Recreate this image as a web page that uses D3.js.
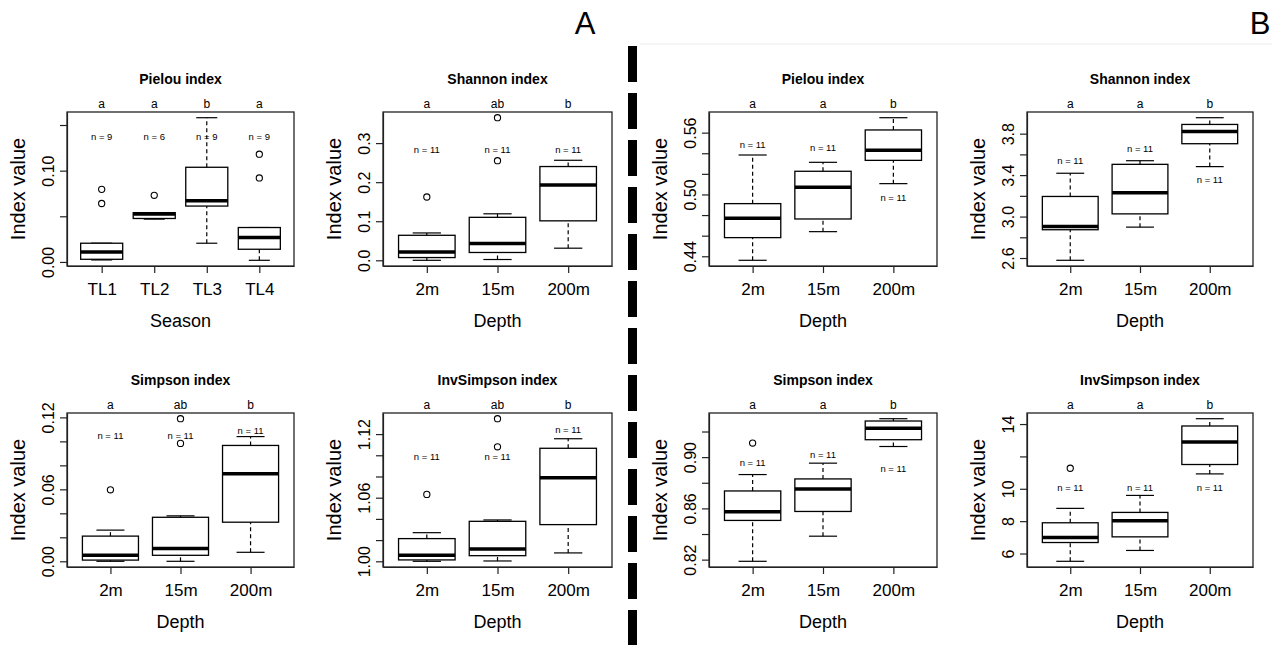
<!DOCTYPE html>
<html>
<head>
<meta charset="utf-8">
<script src="https://cdn.jsdelivr.net/npm/d3@7"></script>
<style>
body{margin:0;background:#fff}
text{font-family:"Liberation Sans",Arial,Helvetica,sans-serif;fill:#000}
</style>
</head>
<body>
<script>
// categories
var seasons=["TL1","TL2","TL3","TL4"]
var depths=["2m","15m","200m"]

// box stats per group: [lower whisker, Q1, median, Q3, upper whisker]
// --- A ---
var pielouA=[[0.0022,0.0029,0.011,0.0205,0.0205],[0.0469,0.0476,0.0524,0.054,0.054],[0.0205,0.0612,0.067,0.1037,0.158],[0.0018,0.0139,0.0267,0.0377,0.0377]]
var pielouA_out=[[0.0795,0.064],[0.073],[],[0.118,0.092]]
var pielouA_n=[9,6,9,9]
var pielouA_nY=[0.137,0.137,0.137,0.137]
var pielouA_sig=["a","a","b","a"]

var shannonA=[[0.0,0.007,0.021,0.064,0.070],[0.002,0.020,0.043,0.110,0.119],[0.031,0.101,0.193,0.240,0.256]]
var shannonA_out=[[0.162],[0.255,0.365],[]]
var shannonA_nY=[0.283,0.283,0.283]
var shannonA_sig=["a","ab","b"]

var simpsonA=[[0.0,0.001,0.005,0.021,0.026],[0.0,0.005,0.0106,0.0367,0.0379],[0.0075,0.0326,0.073,0.0966,0.104]]
var simpsonA_out=[[0.0596],[0.0983,0.1189],[]]
var simpsonA_nY=[0.1044,0.1044,0.109]
var simpsonA_sig=["a","ab","b"]

var invSimpA=[[1.0,1.0013,1.0057,1.0214,1.027],[1.0003,1.0053,1.0116,1.0377,1.039],[1.0079,1.0346,1.0789,1.1066,1.1156]]
var invSimpA_out=[[1.0631],[1.108,1.1345],[]]
var invSimpA_nY=[1.0987,1.0987,1.1238]
var invSimpA_sig=["a","ab","b"]

// --- B ---
var pielouB=[[0.4361,0.4581,0.4769,0.4911,0.5383],[0.4639,0.4762,0.5069,0.5225,0.5312],[0.5105,0.5331,0.5428,0.5626,0.5745]]
var pielouB_out=[[],[],[]]
var pielouB_nY=[0.548,0.5452,0.4967]
var pielouB_sig=["a","a","b"]

var shannonB=[[2.578,2.873,2.905,3.194,3.418],[2.898,3.026,3.231,3.504,3.539],[3.482,3.703,3.822,3.889,3.954]]
var shannonB_out=[[],[],[]]
var shannonB_nY=[3.537,3.652,3.353]
var shannonB_sig=["a","a","b"]

var simpsonB=[[0.8187,0.8506,0.8574,0.8736,0.8864],[0.8383,0.8576,0.8752,0.883,0.8953],[0.9083,0.9136,0.9225,0.9282,0.93]]
var simpsonB_out=[[0.911],[],[]]
var simpsonB_nY=[0.896,0.902,0.8909]
var simpsonB_sig=["a","a","b"]

var invSimpB=[[5.52,6.68,6.99,7.90,8.79],[6.19,7.03,8.02,8.54,9.59],[10.92,11.5,12.89,13.88,14.33]]
var invSimpB_out=[[11.27],[],[]]
var invSimpB_nY=[10.08,10.08,10.08]
var invSimpB_sig=["a","a","b"]

var n11=[11,11,11]

// y ticks and which of them get a label
var ticks1=[0,0.05,0.10,0.15], lab1=["0.00","0.10"]
var ticks2=[0,0.1,0.2,0.3], lab2=["0.0","0.1","0.2","0.3"]
var ticks3=[0,0.02,0.04,0.06,0.08,0.10,0.12], lab3=["0.00","0.06","0.12"]
var ticks4=[1.00,1.02,1.04,1.06,1.08,1.10,1.12], lab4=["1.00","1.06","1.12"]
var ticks5=[0.44,0.46,0.48,0.50,0.52,0.54,0.56], lab5=["0.44","0.50","0.56"]
var ticks6=[2.6,2.8,3.0,3.2,3.4,3.6,3.8], lab6=["2.6","3.0","3.4","3.8"]
var ticks7=[0.82,0.84,0.86,0.88,0.90,0.92], lab7=["0.82","0.86","0.90"]
var ticks8=[6,8,10,12,14], lab8=["6","8","10","14"]

var cols=[[67,294],[383,612],[709,937],[1027,1253]]
var rows=[[112,266],[413,567]]

var panels=[
 {c:0,r:0,title:"Pielou index",cats:seasons,st:pielouA,out:pielouA_out,n:pielouA_n,nY:pielouA_nY,sig:pielouA_sig,ticks:ticks1,labs:lab1,fmt:2,xl:"Season"},
 {c:1,r:0,title:"Shannon index",cats:depths,st:shannonA,out:shannonA_out,n:n11,nY:shannonA_nY,sig:shannonA_sig,ticks:ticks2,labs:lab2,fmt:1,xl:"Depth"},
 {c:0,r:1,title:"Simpson index",cats:depths,st:simpsonA,out:simpsonA_out,n:n11,nY:simpsonA_nY,sig:simpsonA_sig,ticks:ticks3,labs:lab3,fmt:2,xl:"Depth"},
 {c:1,r:1,title:"InvSimpson index",cats:depths,st:invSimpA,out:invSimpA_out,n:n11,nY:invSimpA_nY,sig:invSimpA_sig,ticks:ticks4,labs:lab4,fmt:2,xl:"Depth"},
 {c:2,r:0,title:"Pielou index",cats:depths,st:pielouB,out:pielouB_out,n:n11,nY:pielouB_nY,sig:pielouB_sig,ticks:ticks5,labs:lab5,fmt:2,xl:"Depth"},
 {c:3,r:0,title:"Shannon index",cats:depths,st:shannonB,out:shannonB_out,n:n11,nY:shannonB_nY,sig:shannonB_sig,ticks:ticks6,labs:lab6,fmt:1,xl:"Depth"},
 {c:2,r:1,title:"Simpson index",cats:depths,st:simpsonB,out:simpsonB_out,n:n11,nY:simpsonB_nY,sig:simpsonB_sig,ticks:ticks7,labs:lab7,fmt:2,xl:"Depth"},
 {c:3,r:1,title:"InvSimpson index",cats:depths,st:invSimpB,out:invSimpB_out,n:n11,nY:invSimpB_nY,sig:invSimpB_sig,ticks:ticks8,labs:lab8,fmt:0,xl:"Depth"}
]

var svg=d3.select("body").append("svg").attr("width",1272).attr("height",645)

// faint frame line over B
svg.append("line").attr("x1",640).attr("x2",1272).attr("y1",44).attr("y2",44).attr("stroke","#ececec").attr("stroke-width",1)

// dashed divider
svg.append("line").attr("x1",632.5).attr("x2",632.5).attr("y1",46).attr("y2",645)
 .attr("stroke","#000").attr("stroke-width",9).attr("stroke-dasharray","36,11")

svg.append("text").attr("x",585).attr("y",34).attr("text-anchor","middle").style("font-size","31px").text("A")
svg.append("text").attr("x",1260).attr("y",34).attr("text-anchor","middle").style("font-size","31px").text("B")

panels.forEach(function(p){
	var x0=cols[p.c][0],x1=cols[p.c][1],y0=rows[p.r][0],y1=rows[p.r][1]
	var k=p.cats.length
	var x=d3.scaleLinear().domain([0.5-0.04*k,k+0.5+0.04*k]).range([x0,x1])
	var all=d3.merge(p.st).concat(d3.merge(p.out))
	var ext=d3.extent(all),pad=(ext[1]-ext[0])*0.04
	var y=d3.scaleLinear().domain([ext[0]-pad,ext[1]+pad]).range([y1,y0])
	var g=svg.append("g")
	var hw=(x(1.4)-x(1))

	// y axis
	var ya=g.append("g").attr("transform","translate("+x0+",0)")
		.call(d3.axisLeft(y).tickValues(p.ticks).tickSize(7).tickSizeOuter(0)
		.tickFormat(function(d){var s=d.toFixed(p.fmt);return p.labs.indexOf(s)>=0?s:""}))
	ya.select(".domain").attr("stroke","#222").attr("stroke-width",1.2)
	ya.selectAll(".tick line").attr("stroke","#222").attr("stroke-width",1.2)
	ya.selectAll(".tick text").attr("transform","rotate(-90)").attr("x",0).attr("y",-13).attr("dy",null)
		.attr("text-anchor","middle").style("font-size","16px").attr("fill","#000")

	// x axis
	var xa=g.append("g").attr("transform","translate(0,"+y1+")")
		.call(d3.axisBottom(x).tickValues(d3.range(1,k+1)).tickSize(7).tickSizeOuter(0)
		.tickFormat(function(d){return p.cats[d-1]}))
	xa.select(".domain").attr("stroke","#222").attr("stroke-width",1.2)
	xa.selectAll(".tick line").attr("stroke","#222").attr("stroke-width",1.2)
	xa.selectAll(".tick text").attr("y",29).attr("dy",null).style("font-size","17px").attr("fill","#000")

	// frame
	g.append("rect").attr("x",x0).attr("y",y0).attr("width",x1-x0).attr("height",y1-y0)
		.attr("fill","none").attr("stroke","#222").attr("stroke-width",1.3)

	var bx=g.selectAll(".bx").data(p.st).enter().append("g")
	bx.append("line").attr("x1",(d,i)=>x(i+1)).attr("x2",(d,i)=>x(i+1)).attr("y1",d=>y(d[0])).attr("y2",d=>y(d[1]))
		.attr("stroke","#000").attr("stroke-width",1.2).attr("stroke-dasharray","4,3")
	bx.append("line").attr("x1",(d,i)=>x(i+1)).attr("x2",(d,i)=>x(i+1)).attr("y1",d=>y(d[3])).attr("y2",d=>y(d[4]))
		.attr("stroke","#000").attr("stroke-width",1.2).attr("stroke-dasharray","4,3")
	bx.append("line").attr("x1",(d,i)=>x(i+1)-hw/2).attr("x2",(d,i)=>x(i+1)+hw/2).attr("y1",d=>y(d[0])).attr("y2",d=>y(d[0]))
		.attr("stroke","#000").attr("stroke-width",1.2)
	bx.append("line").attr("x1",(d,i)=>x(i+1)-hw/2).attr("x2",(d,i)=>x(i+1)+hw/2).attr("y1",d=>y(d[4])).attr("y2",d=>y(d[4]))
		.attr("stroke","#000").attr("stroke-width",1.2)
	bx.append("rect").attr("x",(d,i)=>x(i+1)-hw).attr("width",2*hw).attr("y",d=>y(d[3])).attr("height",d=>y(d[1])-y(d[3]))
		.attr("fill","#fff").attr("stroke","#000").attr("stroke-width",1.3)
	bx.append("line").attr("x1",(d,i)=>x(i+1)-hw).attr("x2",(d,i)=>x(i+1)+hw).attr("y1",d=>y(d[2])).attr("y2",d=>y(d[2]))
		.attr("stroke","#000").attr("stroke-width",3.5)

	p.out.forEach(function(o,i){
		g.selectAll(null).data(o).enter().append("circle").attr("cx",x(i+1)).attr("cy",d=>y(d)).attr("r",3.1)
			.attr("fill","none").attr("stroke","#000").attr("stroke-width",1.1)
	})

	// n labels
	g.selectAll(null).data(p.n).enter().append("text").attr("x",(d,i)=>x(i+1)).attr("y",(d,i)=>y(p.nY[i]))
		.attr("dy","0.35em").attr("text-anchor","middle").style("font-size","9.5px").text(d=>"n = "+d)
	// significance letters
	g.selectAll(null).data(p.sig).enter().append("text").attr("x",(d,i)=>x(i+1)).attr("y",y0-4)
		.attr("text-anchor","middle").style("font-size","12px").text(d=>d)

	g.append("text").attr("x",(x0+x1)/2).attr("y",y0-28).attr("text-anchor","middle")
		.style("font-size","14px").style("font-weight","bold").text(p.title)
	g.append("text").attr("x",(x0+x1)/2).attr("y",y1+61).attr("text-anchor","middle")
		.style("font-size","18px").text(p.xl)
	g.append("text").attr("transform","translate("+(x0-42)+","+((y0+y1)/2)+") rotate(-90)")
		.attr("text-anchor","middle").style("font-size","20px").text("Index value")
})
</script>
</body>
</html>
